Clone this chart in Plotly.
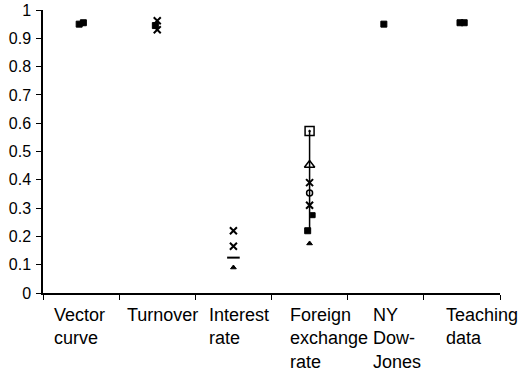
import plotly.graph_objects as go

categories = ["Vector<br>curve", "Turnover", "Interest<br>rate", "Foreign<br>exchange<br>rate", "NY<br>Dow-<br>Jones", "Teaching<br>data"]

# series values per category (None = no point)
filled_square = [0.95, 0.945, None, 0.22, 0.95, 0.955]
filled_square_b = [0.955, None, None, None, None, 0.955]
small_square = [None, None, None, 0.275, None, None]
small_triangle = [0.95, None, 0.09, 0.175, None, None]
cross_a = [None, 0.962, 0.22, 0.39, None, None]
cross_b = [None, 0.93, 0.165, 0.31, None, None]
dash = [None, None, 0.125, None, None, None]
open_circle = [None, None, None, 0.353, None, None]
open_triangle = [None, None, None, 0.452, None, None]
dotted_square = [None, None, None, 0.572, None, None]

ytick_vals = [0, 0.1, 0.2, 0.3, 0.4, 0.5, 0.6, 0.7, 0.8, 0.9, 1]
ytick_text = ["0", "0.1", "0.2", "0.3", "0.4", "0.5", "0.6", "0.7", "0.8", "0.9", "1"]

xpos = [i + 0.5 for i in range(len(categories))]
label_shift = [9, 6, 12, 16, 23, 20]

FONT = "Liberation Sans, Arial"

fig = go.Figure()

# high-low line for Foreign exchange rate
fx = 3
fig.add_trace(go.Scatter(x=[xpos[fx], xpos[fx]], y=[dotted_square[fx], filled_square[fx]],
                         mode="lines", line=dict(color="black", width=1.5), showlegend=False))

def add(vals, symbol, size, dx=0.0, lw=1.5, fill="black"):
    xs, ys = [], []
    for i, v in enumerate(vals):
        if v is not None:
            xs.append(xpos[i] + dx)
            ys.append(v)
    fig.add_trace(go.Scatter(x=xs, y=ys, mode="markers", showlegend=False,
                             marker=dict(symbol=symbol, size=size, color=fill,
                                         line=dict(color="black", width=lw))))

add(filled_square, "square", 6, -0.025, 1)
add(filled_square_b, "square", 6, 0.03, 1)
add(small_square, "square", 5, 0.04, 1)
add(small_triangle, "triangle-up", 5, 0, 1)
add(cross_a, "x-thin-open", 7, 0, 2)
add(cross_b, "x-thin-open", 7, 0, 2)
add(dash, "line-ew-open", 9, 0, 2)
add(open_circle, "circle-open", 6)
add(open_triangle, "triangle-up-open", 9)
add(dotted_square, "square-open-dot", 9, 0, 1.5, "black")

for i, lab in enumerate(categories):
    fig.add_annotation(x=i, y=0, xref="x", yref="paper", text=lab, showarrow=False,
                       xanchor="left", yanchor="top", align="left", xshift=label_shift[i], yshift=-10,
                       font=dict(size=18, color="black", family=FONT))

fig.update_layout(
    width=519, height=378,
    margin=dict(l=43, r=19, t=10, b=85),
    plot_bgcolor="white", paper_bgcolor="white",
    font=dict(family=FONT, size=16, color="black"),
    xaxis=dict(range=[0, 6], tickvals=[0, 1, 2, 3, 4, 5, 6], ticktext=[""] * 7, automargin=False,
               showgrid=False, zeroline=False, showline=True, linecolor="black", linewidth=1.5,
               ticks="outside", ticklen=5, tickcolor="black"),
    yaxis=dict(range=[0, 1], tickvals=ytick_vals, ticktext=ytick_text, automargin=False,
               showgrid=False, zeroline=False, showline=True, linecolor="black", linewidth=1.5,
               ticks="outside", ticklen=5, tickcolor="black", ticklabelstandoff=2,
               tickfont=dict(size=16)),
)

fig.write_html("out.html", config={"displayModeBar": False},
               post_script="document.body.style.margin='0';")
